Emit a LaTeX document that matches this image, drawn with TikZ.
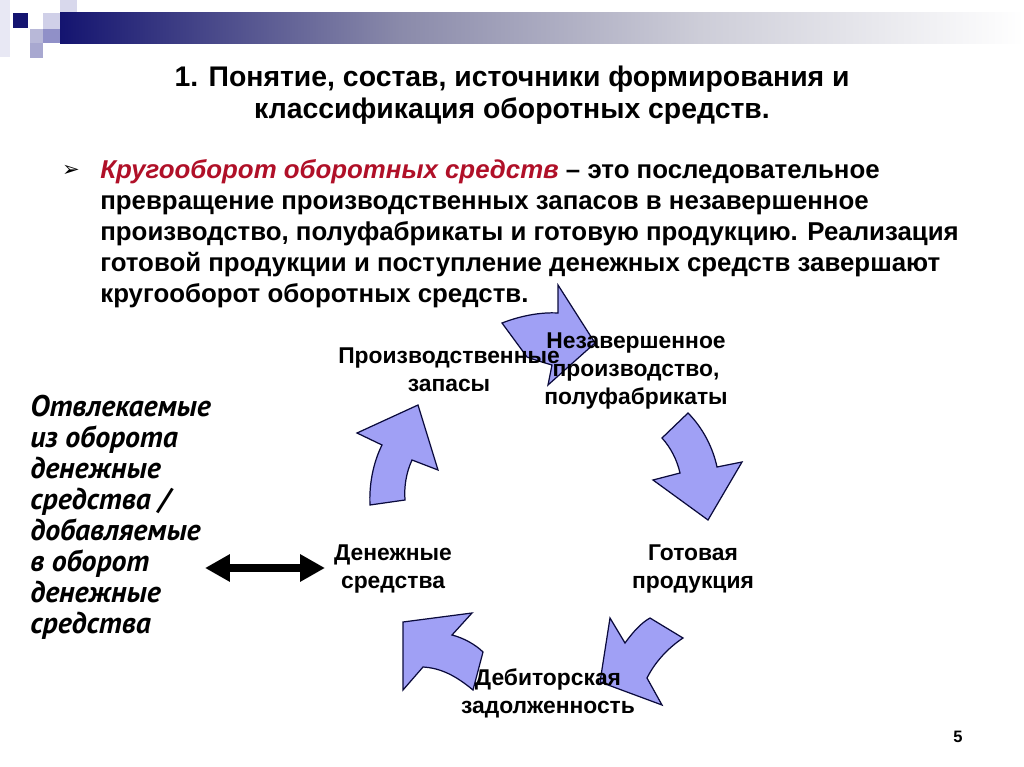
\documentclass[tikz,border=0pt]{standalone}
\usepackage{fontspec}
\setmainfont{Liberation Sans}
\newfontfamily\ptsans{PT Sans}
\newfontfamily\djv{DejaVu Sans}
\usetikzlibrary{arrows.meta}
\definecolor{navyA}{RGB}{20,20,112}
\definecolor{grayA}{RGB}{138,138,170}
\definecolor{grayB}{RGB}{205,205,216}
\definecolor{cycfill}{RGB}{160,160,245}
\definecolor{cycline}{RGB}{10,10,60}
\definecolor{redA}{RGB}{176,16,40}
\definecolor{sq1}{RGB}{232,232,244}
\definecolor{sq2}{RGB}{184,184,216}
\definecolor{sq3}{RGB}{208,208,232}
\definecolor{sq4}{RGB}{144,144,200}
\definecolor{sq5}{RGB}{216,216,236}
\definecolor{sq6}{RGB}{160,160,208}
\definecolor{sq7}{RGB}{168,168,208}
\tikzset{
  cycarrow/.style={fill=cycfill, draw=cycline, line width=0.7pt, line join=miter},
  cyclabel/.style={font=\bfseries\fontsize{13}{15.9}\selectfont, align=center, inner sep=0pt},
  dblarrow/.style={line width=4.8pt, {Triangle[length=0.5cm,width=0.52cm]}-{Triangle[length=0.5cm,width=0.52cm]}}
}
\begin{document}
\begin{tikzpicture}[x=0.02cm,y=-0.02cm]
\useasboundingbox (0,0) rectangle (1024,767);
% header decoration
\fill[sq1] (0,0) rectangle (10,57);
\fill[sq5] (60,0) rectangle (77,13);
\fill[sq3] (43,13) rectangle (60,29);
\fill[sq6] (60,13) rectangle (77,29);
\fill[navyA] (13,13) rectangle (28,28);
\fill[sq2] (30,29) rectangle (43,43);
\fill[sq4] (43,29) rectangle (60,43);
\fill[sq7] (30,43) rectangle (43,58);
\shade[left color=navyA, right color=grayA] (60,13) rectangle (400,44);
\shade[left color=grayA, right color=grayB] (399.5,13) rectangle (700,44);
\shade[left color=grayB, right color=white] (699.5,13) rectangle (1024,44);
% title
\node[font=\bfseries\fontsize{16.15}{18.2}\selectfont, align=center, inner sep=0pt] (title) at (512,95)
  {1. Понятие, состав, источники формирования и\\классификация оборотных средств.};
% bullet
\node[font=\djv\fontsize{12}{13}\selectfont, inner sep=0pt] (bul) at (71,171) {➢};
\node[font=\bfseries\fontsize{14.7}{17.7}\selectfont, align=left, inner sep=0pt, anchor=north west] (para) at (100,159)
  {{\color{redA}\itshape Кругооборот оборотных средств} – это последовательное\\
   превращение производственных запасов в незавершенное\\
   производство, полуфабрикаты и готовую продукцию. Реализация\\
   готовой продукции и поступление денежных средств завершают\\
   кругооборот оборотных средств.};
% cycle arrows
\draw[cycarrow] (502,323) .. controls (520,316) and (540,312) .. (558,313) -- (558,285) -- (595,343) -- (548,385) -- (552,365) .. controls (545,363) and (535,360) .. (527,357) -- cycle;
\draw[cycarrow] (662,438) -- (688,413) .. controls (703,428) and (713,448) .. (717,467) -- (742,462) -- (708,520) -- (653,480) -- (680,473) .. controls (677,460) and (671,448) .. (662,438) -- cycle;
\draw[cycarrow] (610,618) -- (625,643) .. controls (633,632) and (641,623) .. (650,618) -- (683,638) .. controls (668,648) and (655,662) .. (647,678) -- (662,705) -- (600,682) -- cycle;
\draw[cycarrow] (403,622) -- (472,613) -- (452,635) .. controls (464,638) and (476,645) .. (483,652) -- (473,690) .. controls (455,675) and (440,668) .. (423,667) -- (403,690) -- cycle;
\draw[cycarrow] (418,405) -- (438,470) -- (412,460) .. controls (406,473) and (404,487) .. (405,500) -- (370,505) .. controls (369,485) and (373,463) .. (382,445) -- (357,433) -- cycle;
% cycle labels
\node[cyclabel] (zap) at (449,370) {Производственные\\запасы};
\node[cyclabel] (nez) at (636,371) {Незавершенное\\производство,\\полуфабрикаты};
\node[cyclabel] (got) at (693,569) {Готовая\\продукция};
\node[cyclabel] (deb) at (548,693) {Дебиторская\\задолженность};
\node[cyclabel] (den) at (393,569) {Денежные\\средства};
% left text
\node[font=\ptsans\bfseries\itshape\fontsize{17}{17.6}\selectfont, align=left, inner sep=0pt, anchor=north west] (left) at (30,395)
  {Отвлекаемые\\из оборота\\денежные\\средства /\\добавляемые\\в оборот\\денежные\\средства};
% double arrow
\coordinate (da1) at (205,568);
\coordinate (da2) at (325,568);
\draw[dblarrow] (da1) -- (da2);
% page number
\node[font=\bfseries\fontsize{9.4}{11}\selectfont, inner sep=0pt] (pg) at (958,737) {5};
\end{tikzpicture}
\end{document}
